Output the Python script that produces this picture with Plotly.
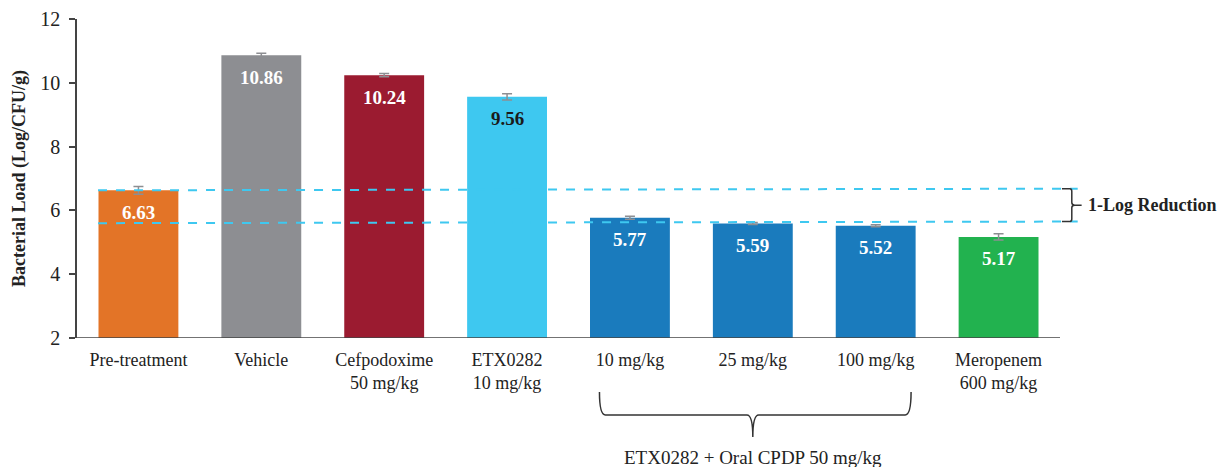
import plotly.graph_objects as go

# Treatment groups and bacterial load (Log CFU/g)
categories = ["Pre-treatment", "Vehicle", "Cefpodoxime<br>50 mg/kg", "ETX0282<br>10 mg/kg",
              "10 mg/kg", "25 mg/kg", "100 mg/kg", "Meropenem<br>600 mg/kg"]
values = [6.63, 10.86, 10.24, 9.56, 5.77, 5.59, 5.52, 5.17]
errors = [0.12, 0.07, 0.05, 0.10, 0.05, 0.03, 0.03, 0.10]
colors = ["#E37427", "#8D8E92", "#9B1B30", "#3EC8F0", "#1A7BBD", "#1A7BBD", "#1A7BBD", "#22B24F"]
label_colors = ["white", "white", "white", "#1a1a1a", "white", "white", "white", "white"]

# 1-log reduction reference band (slightly tilted as drawn)
ref_top = [6.63, 6.68]
ref_bottom = [5.60, 5.65]

SERIF = "Liberation Serif, Times New Roman, serif"
N = len(categories)


def cat_paper(i):
    return (i + 0.5) / N


fig = go.Figure()
fig.add_trace(go.Bar(
    x=categories, y=values,
    marker=dict(color=colors, line=dict(width=0)),
    error_y=dict(type="data", array=errors, visible=True, color="#8D8E92",
                 thickness=1.5, width=5),
    width=0.65, hoverinfo="x+y",
))

annotations = []
for cat, v, lc in zip(categories, values, label_colors):
    annotations.append(dict(x=cat, y=v, xref="x", yref="y", text=f"<b>{v:.2f}</b>",
                            showarrow=False, yshift=-22,
                            font=dict(family=SERIF, size=19, color=lc)))

annotations.append(dict(x=cat_paper(5), y=-0.376, xref="paper", yref="paper",
                        xanchor="center", yanchor="middle",
                        text="ETX0282 + Oral CPDP 50 mg/kg", showarrow=False,
                        font=dict(family=SERIF, size=19, color="#222")))
annotations.append(dict(x=1.026, y=(ref_top[1] + ref_bottom[1]) / 2, xref="paper", yref="y",
                        text="<b>1-Log Reduction</b>", showarrow=False, xanchor="left",
                        font=dict(family=SERIF, size=18, color="#222")))

shapes = []
# dashed reference lines
for ys in (ref_top, ref_bottom):
    shapes.append(dict(type="line", xref="paper", yref="y", x0=0.0214, x1=1.018,
                       y0=ys[0], y1=ys[1],
                       line=dict(color="#3EC8F0", width=2, dash="dash"), layer="above"))

# right brace for the 1-log band
yt, yb = ref_top[1], ref_bottom[1]
ym = (yt + yb) / 2
bx0, bx1, bx2 = 1.002, 1.012, 1.022
shapes.append(dict(
    type="path", xref="paper", yref="y",
    path=(f"M {bx0},{yt} L {bx1 - 0.002},{yt} Q {bx1},{yt} {bx1},{yt - 0.08} "
          f"L {bx1},{ym + 0.08} Q {bx1},{ym} {bx1 + 0.003},{ym} L {bx2},{ym} "
          f"M {bx1 + 0.003},{ym} Q {bx1},{ym} {bx1},{ym - 0.08} "
          f"L {bx1},{yb + 0.08} Q {bx1},{yb} {bx1 - 0.002},{yb} L {bx0},{yb}"),
    line=dict(color="#333", width=1.5)))

# bottom brace grouping the ETX0282 + CPDP doses
lx, rx, cx = cat_paper(4) - 0.031, cat_paper(6) + 0.036, cat_paper(5)
ytop, ymid, ytip = -0.169, -0.241, -0.31
shapes.append(dict(
    type="path", xref="paper", yref="paper",
    path=(f"M {lx},{ytop} Q {lx},{ymid} {lx + 0.006},{ymid} L {cx - 0.006},{ymid} "
          f"Q {cx},{ymid} {cx},{ytip} Q {cx},{ymid} {cx + 0.006},{ymid} "
          f"L {rx - 0.006},{ymid} Q {rx},{ymid} {rx},{ytop}"),
    line=dict(color="#333", width=1.5)))

# x-axis baseline extending slightly left of the y axis
shapes.append(dict(type="line", xref="paper", yref="y", x0=-0.006, x1=1.0, y0=2, y1=2,
                   line=dict(color="#444", width=1.5)))

fig.update_layout(
    width=1223, height=467,
    margin=dict(l=77, r=163, t=19, b=129),
    plot_bgcolor="white", paper_bgcolor="white",
    showlegend=False,
    bargap=0.35,
    font=dict(family=SERIF, color="#222"),
    xaxis=dict(range=[-0.5, 7.5], showline=False, ticks="", showgrid=False,
               automargin=False, ticklabelstandoff=9,
               tickfont=dict(family=SERIF, size=18, color="#222")),
    yaxis=dict(range=[2, 12], tickvals=[2, 4, 6, 8, 10, 12], showgrid=False,
               zeroline=False, showline=True, linecolor="#444", linewidth=1.5,
               ticks="outside", ticklen=6, tickcolor="#444", tickwidth=1.5,
               automargin=False, ticklabelstandoff=5,
               tickfont=dict(family=SERIF, size=20, color="#222"),
               title=dict(text="<b>Bacterial Load (Log/CFU/g)</b>", standoff=10,
                          font=dict(family=SERIF, size=18, color="#222"))),
    annotations=annotations,
    shapes=shapes,
)

fig.write_html("out.html")
